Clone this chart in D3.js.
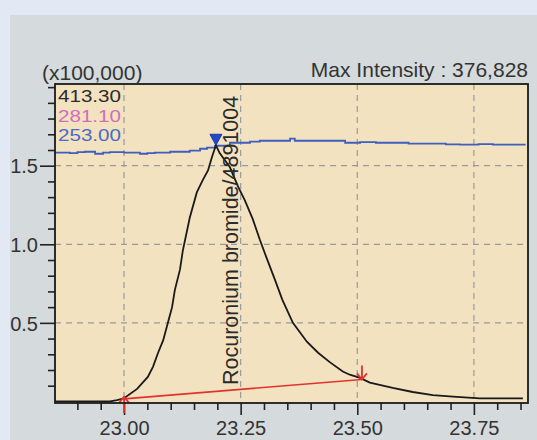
<!DOCTYPE html>
<html><head><meta charset="utf-8">
<script src="https://cdn.jsdelivr.net/npm/d3@7"></script>
<style>
html,body{margin:0;padding:0;background:#e2e9f5;}
svg{display:block;}
text{font-family:"Liberation Sans",Arial,sans-serif;}
</style></head>
<body>
<svg id="c" width="537" height="440"></svg>
<script>
// ---- data ----
const mainTimes = [22.852,22.970,22.985,23.000,23.028,23.051,23.062,23.073,23.084,23.094,23.103,23.109,23.120,23.126,23.141,23.156,23.169,23.180,23.189,23.197,23.205,23.227,23.244,23.259,23.276,23.291,23.306,23.324,23.339,23.362,23.392,23.416,23.441,23.469,23.484,23.506,23.527,23.576,23.619,23.662,23.705,23.763,23.855];
const mainValues = [0.0,0.0,0.008,0.02,0.08,0.156,0.22,0.31,0.39,0.50,0.60,0.71,0.84,0.96,1.17,1.33,1.41,1.47,1.56,1.63,1.58,1.49,1.37,1.28,1.16,1.03,0.91,0.77,0.65,0.50,0.38,0.31,0.25,0.19,0.17,0.15,0.12,0.086,0.06,0.04,0.03,0.02,0.02];
const blueTimes = [22.852,22.884,22.900,22.916,22.938,22.955,22.970,23.000,23.034,23.050,23.066,23.099,23.141,23.163,23.178,23.195,23.227,23.270,23.291,23.350,23.356,23.366,23.400,23.463,23.474,23.506,23.540,23.576,23.610,23.649,23.690,23.720,23.760,23.791,23.859];
const blueValues = [1.583,1.580,1.586,1.589,1.576,1.583,1.586,1.583,1.576,1.580,1.583,1.589,1.596,1.608,1.615,1.627,1.646,1.653,1.659,1.659,1.672,1.659,1.659,1.659,1.646,1.650,1.646,1.646,1.640,1.640,1.636,1.634,1.638,1.634,1.640];
const baseTimes = [23.000, 23.510];
const baseValues = [0.016, 0.14];
const peakTime = 23.197, peakValue = 1.63;
const xTickValues = [23.00, 23.25, 23.50, 23.75];
const xTickLabels = ["23.00","23.25","23.50","23.75"];
const yTickValues = [0.5, 1.0, 1.5];
const yTickLabels = ["0.5","1.0","1.5"];
const legendLabels = ["413.30","281.10","253.00"];
const legendColors = ["#2b2b2b","#d46db8","#4a6ac4"];
const peakName = "Rocuronium bromide/4891004";
const maxIntensity = "Max Intensity : 376,828";
const unitLabel = "(x100,000)";

// ---- layout ----
const svg = d3.select("#c");
const L = 55, R = 528, T = 84, B = 403;
const x = d3.scaleLinear().domain([22.852, 23.866]).range([L, R]);
const y = d3.scaleLinear().domain([-0.01, 2.02]).range([B, T]);

svg.append("rect").attr("x",10).attr("y",15).attr("width",527).attr("height",425).attr("fill","#d5dadc");
svg.append("rect").attr("x",L).attr("y",T).attr("width",R-L).attr("height",B-T).attr("fill","#f2e2c0");

// grid
const g = svg.append("g");
g.selectAll(".vg").data(xTickValues).join("line")
  .attr("x1",d=>x(d)).attr("x2",d=>x(d)).attr("y1",T).attr("y2",B)
  .attr("stroke","#9a9a9a").attr("stroke-width",1.2).attr("stroke-dasharray","6,5");
g.selectAll(".hg").data(yTickValues).join("line")
  .attr("y1",d=>y(d)).attr("y2",d=>y(d)).attr("x1",L).attr("x2",R)
  .attr("stroke","#9a9a9a").attr("stroke-width",1.2).attr("stroke-dasharray","6,5");

// axes
const xMinor = d3.range(22.90, 23.86, 0.05).filter(v=>!xTickValues.some(t=>Math.abs(t-v)<1e-6));
const yMinor = d3.range(0.1, 2.01, 0.1).filter(v=>!yTickValues.some(t=>Math.abs(t-v)<1e-6));
const axX = svg.append("g").attr("transform",`translate(0,${B})`);
axX.call(d3.axisBottom(x).tickValues(xMinor).tickSize(7).tickFormat(""));
const axX2 = svg.append("g").attr("transform",`translate(0,${B})`);
axX2.call(d3.axisBottom(x).tickValues(xTickValues).tickSize(12).tickPadding(3).tickFormat((d,i)=>xTickLabels[i]));
const axY = svg.append("g").attr("transform",`translate(${L},0)`);
axY.call(d3.axisLeft(y).tickValues(yMinor).tickSize(7).tickFormat(""));
const axY2 = svg.append("g").attr("transform",`translate(${L},0)`);
axY2.call(d3.axisLeft(y).tickValues(yTickValues).tickSize(15).tickPadding(2).tickFormat((d,i)=>yTickLabels[i]));
[axX,axX2,axY,axY2].forEach(a=>{
  a.select(".domain").remove();
  a.selectAll("line").attr("stroke","#222").attr("stroke-width",1.6);
  a.selectAll("text").attr("fill","#333").style("font-size","20px").style("font-family","Liberation Sans, Arial, sans-serif");
});
axX2.selectAll("text").attr("dy","0.85em");
axY2.selectAll("text").attr("dy","0.36em");

// blue line
const lineBlue = d3.line().x((d,i)=>x(blueTimes[i])).y(d=>y(d)).curve(d3.curveStepAfter);
svg.append("path").attr("d",lineBlue(blueValues)).attr("fill","none").attr("stroke","#3f5fbf").attr("stroke-width",1.8);

// main line
const lineMain = d3.line().x((d,i)=>x(mainTimes[i])).y(d=>y(d));
svg.append("path").attr("d",lineMain(mainValues)).attr("fill","none").attr("stroke","#1a1a1a").attr("stroke-width",1.8);

// red baseline
const lineBase = d3.line().x((d,i)=>x(baseTimes[i])).y(d=>y(d));
svg.append("path").attr("d",lineBase(baseValues)).attr("fill","none").attr("stroke","#e0332e").attr("stroke-width",1.6);

// red markers
const sx = x(baseTimes[0]), sy = y(baseValues[0]);
svg.append("path").attr("d",`M${sx},${sy+14}L${sx},${sy-2}M${sx-5},${sy+4}L${sx},${sy-2}L${sx+5},${sy+4}`)
  .attr("fill","none").attr("stroke","#e0332e").attr("stroke-width",1.8);
const ex = x(baseTimes[1]), ey = y(baseValues[1]);
svg.append("path").attr("d",`M${ex},${ey-14}L${ex},${ey}M${ex-5},${ey-6}L${ex},${ey}L${ex+5},${ey-6}`)
  .attr("fill","none").attr("stroke","#e0332e").attr("stroke-width",1.8);

// peak triangle
const px = x(peakTime), py = y(peakValue);
svg.append("path").attr("d",`M${px-6},${py-11}L${px+6},${py-11}L${px},${py}Z`).attr("fill","#2348c8").attr("stroke","#1a3aa8").attr("stroke-width",1);

// frame
svg.append("rect").attr("x",L).attr("y",T).attr("width",R-L).attr("height",B-T).attr("fill","none").attr("stroke","#1a1a1a").attr("stroke-width",1.8);

// legend
svg.selectAll(".lg").data(legendLabels).join("text")
  .attr("x",58).attr("y",(d,i)=>102+i*19.5).attr("fill",(d,i)=>legendColors[i])
  .attr("textLength",63).attr("lengthAdjust","spacingAndGlyphs")
  .style("font-size","16.5px").text(d=>d);

// peak label
svg.append("text").attr("transform",`translate(238,385) rotate(-90)`).attr("fill","#2b2b2b")
  .style("font-size","21.5px").text(peakName);

// titles
svg.append("text").attr("x",42).attr("y",80).attr("fill","#333").style("font-size","21px").text(unitLabel);
svg.append("text").attr("x",528).attr("y",77).attr("text-anchor","end").attr("fill","#333").style("font-size","21px").text(maxIntensity);
</script>
</body></html>
